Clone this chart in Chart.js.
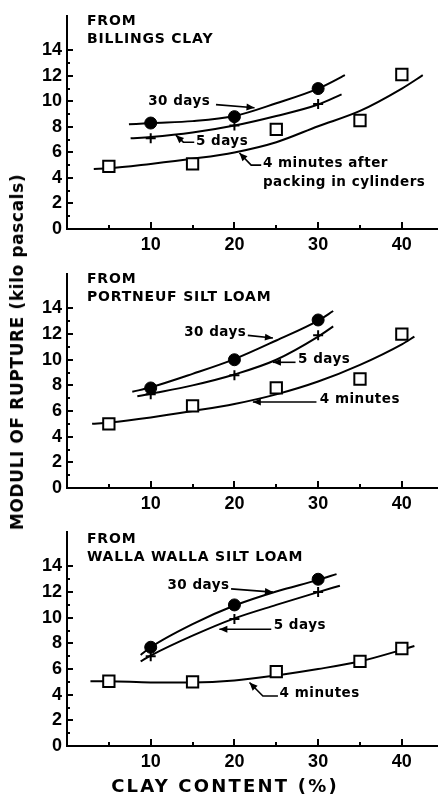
<!DOCTYPE html>
<html><head><meta charset="utf-8">
<script src="https://cdn.jsdelivr.net/npm/chart.js@4.4.0/dist/chart.umd.min.js"></script>
<style>
html,body{margin:0;padding:0;background:#fff;}
#wrap{position:relative;width:447px;height:795px;overflow:hidden;background:#fff;}
canvas{position:absolute;left:0;}
.ytitle{position:absolute;left:17px;top:352px;transform:translate(-50%,-50%) rotate(-90deg);font:bold 17px "DejaVu Sans";letter-spacing:0.6px;white-space:nowrap;color:#000;}
.xtitle{position:absolute;left:225px;top:785px;transform:translate(-50%,-50%);font:bold 18px "DejaVu Sans";letter-spacing:2.2px;white-space:nowrap;color:#000;}
</style></head><body>
<div id="wrap">
<canvas id="c1" width="447" height="258" style="top:0px"></canvas>
<canvas id="c2" width="447" height="258" style="top:258px"></canvas>
<canvas id="c3" width="447" height="279" style="top:516px"></canvas>
<div class="ytitle">MODULI OF RUPTURE (kilo pascals)</div>
<div class="xtitle">CLAY CONTENT (%)</div>
</div>
<script>
// ---- data ----
const clayDays = [10, 20, 30];            // clay % of 30-day and 5-day specimens
const clayMin = [5, 15, 25, 35, 40];      // clay % of 4-minute specimens

const billings30 = [8.3, 8.8, 11.0];
const billings5 = [7.1, 8.1, 9.8];
const billings4 = [4.9, 5.1, 7.8, 8.5, 12.1];
const portneuf30 = [7.8, 10.0, 13.1];
const portneuf5 = [7.3, 8.8, 11.9];
const portneuf4 = [5.0, 6.4, 7.8, 8.5, 12.0];
const walla30 = [7.7, 11.0, 13.0];
const walla5 = [7.0, 9.9, 12.0];
const walla4 = [5.05, 5.0, 5.8, 6.6, 7.6];

// fitted curves
const billingsFit30X = [7.4, 10, 15, 20, 25, 30, 33.2];
const billingsFit30Y = [8.2, 8.3, 8.45, 8.85, 9.85, 11.0, 12.05];
const billingsFit5X = [7.6, 10, 15, 20, 25, 30, 32.8];
const billingsFit5Y = [7.1, 7.2, 7.55, 8.1, 8.85, 9.75, 10.55];
const billingsFit4X = [3.2, 5, 10, 15, 20, 25, 30, 35, 40, 42.5];
const billingsFit4Y = [4.7, 4.75, 5.1, 5.5, 6.0, 6.8, 8.05, 9.25, 11.0, 12.05];

const portneufFit30X = [7.8, 10, 15, 20, 25, 30, 31.8];
const portneufFit30Y = [7.5, 7.85, 8.9, 10.05, 11.5, 13.05, 13.8];
const portneufFit5X = [8.4, 10, 15, 20, 25, 30, 31.8];
const portneufFit5Y = [7.15, 7.35, 8.0, 8.85, 10.0, 11.8, 12.6];
const portneufFit4X = [3, 5, 10, 15, 20, 25, 30, 35, 40, 41.5];
const portneufFit4Y = [5.0, 5.1, 5.5, 6.0, 6.55, 7.3, 8.3, 9.6, 11.2, 11.8];

const wallaFit30X = [8.8, 10, 15, 20, 25, 30, 32.2];
const wallaFit30Y = [7.1, 7.7, 9.5, 10.95, 12.05, 12.95, 13.4];
const wallaFit5X = [8.8, 10, 15, 20, 25, 30, 32.6];
const wallaFit5Y = [6.6, 7.05, 8.6, 9.95, 11.0, 12.0, 12.5];
const wallaFit4X = [2.8, 5, 10, 15, 20, 25, 30, 35, 40, 41.5];
const wallaFit4Y = [5.05, 5.05, 4.95, 4.95, 5.1, 5.5, 6.0, 6.6, 7.5, 7.8];

const yTickValues = [0,1,2,3,4,5,6,7,8,9,10,11,12,13,14];
const yTickLabels = ['0','','2','','4','','6','','8','','10','','12','','14'];
const xTickValues = [0,5,10,15,20,25,30,35,40];
const xTickLabels = ['','','10','','20','','30','','40'];

// ---- annotation placement (data units) ----
const notes1 = [
  {lines:['30 days'], at:[9.7, 9.98], arrow:[[17.8, 9.74],[22.4, 9.5]]},
  {lines:['5 days'], at:[15.4, 6.85], arrow:[[15.2, 6.8],[13.9, 6.8],[13.0, 7.35]]},
  {lines:['4 minutes after','packing in cylinders'], at:[23.4, 5.1], arrow:[[23.2, 5.0],[22.0, 5.0],[20.6, 5.95]]}
];
const notes2 = [
  {lines:['30 days'], at:[14.0, 12.1], arrow:[[21.6, 11.9],[24.6, 11.7]]},
  {lines:['5 days'], at:[27.6, 10.0], arrow:[[27.3, 9.8],[24.6, 9.8]]},
  {lines:['4 minutes'], at:[30.2, 6.9], arrow:[[29.8, 6.7],[22.2, 6.7]]}
];
const notes3 = [
  {lines:['30 days'], at:[12.0, 12.5], arrow:[[19.6, 12.25],[24.6, 12.0]]},
  {lines:['5 days'], at:[24.7, 9.4], arrow:[[24.4, 9.1],[18.2, 9.1]]},
  {lines:['4 minutes'], at:[25.4, 4.1], arrow:[[25.2, 3.9],[23.4, 3.9],[21.8, 4.95]]}
];

const pts = (xs, ys) => xs.map((x, i) => ({x: x, y: ys[i]}));

const decor = {
  id: 'decor',
  afterDraw(chart, args, opts) {
    const {ctx, chartArea} = chart;
    const x = chart.scales.x, y = chart.scales.y;
    ctx.save();
    ctx.strokeStyle = '#000'; ctx.fillStyle = '#000'; ctx.lineWidth = 2;
    yTickValues.forEach(v => {
      const py = Math.round(y.getPixelForValue(v));
      const len = v % 2 === 0 ? 6 : 3;
      ctx.beginPath(); ctx.moveTo(chartArea.left, py); ctx.lineTo(chartArea.left + len, py); ctx.stroke();
    });
    xTickValues.forEach(v => {
      if (v === 0) return;
      const px = Math.round(x.getPixelForValue(v));
      const len = v % 10 === 0 ? 7 : 4;
      ctx.beginPath(); ctx.moveTo(px, chartArea.bottom); ctx.lineTo(px, chartArea.bottom - len); ctx.stroke();
    });
    ctx.textBaseline = 'middle'; ctx.textAlign = 'left';
    ctx.font = 'bold 14px "DejaVu Sans"';
    try { ctx.letterSpacing = '0.8px'; } catch (e) {}
    ctx.fillText('FROM', chartArea.left + 20, chartArea.top + opts.titleDy);
    ctx.fillText(opts.title, chartArea.left + 20, chartArea.top + opts.titleDy + 18);
    ctx.font = 'bold 13.5px "DejaVu Sans"';
    try { ctx.letterSpacing = '0.5px'; } catch (e) {}
    opts.notes.forEach(n => {
      const tx = x.getPixelForValue(n.at[0]), ty = y.getPixelForValue(n.at[1]);
      n.lines.forEach((t, i) => ctx.fillText(t, tx, ty + i * 19));
      const p = n.arrow.map(a => [x.getPixelForValue(a[0]), y.getPixelForValue(a[1])]);
      ctx.lineWidth = 1.6;
      ctx.beginPath(); ctx.moveTo(p[0][0], p[0][1]);
      for (let i = 1; i < p.length; i++) ctx.lineTo(p[i][0], p[i][1]);
      ctx.stroke();
      const [x1, y1] = p[p.length - 2], [x2, y2] = p[p.length - 1];
      const a = Math.atan2(y2 - y1, x2 - x1);
      const L = 8, W = 3.5;
      ctx.beginPath();
      ctx.moveTo(x2, y2);
      ctx.lineTo(x2 - L * Math.cos(a) + W * Math.sin(a), y2 - L * Math.sin(a) - W * Math.cos(a));
      ctx.lineTo(x2 - L * Math.cos(a) - W * Math.sin(a), y2 - L * Math.sin(a) + W * Math.cos(a));
      ctx.closePath(); ctx.fill();
    });
    ctx.restore();
  }
};

function makeChart(id, cfg) {
  const tickFont = {family: '"Liberation Sans"', size: 18, weight: 'bold'};
  const curve = (data) => ({type: 'line', data: data, borderColor: '#000', borderWidth: 2, pointRadius: 0,
    cubicInterpolationMode: 'monotone', fill: false, order: 1});
  return new Chart(document.getElementById(id), {
    type: 'scatter',
    data: {
      datasets: [
        {data: pts(clayDays, cfg.m30), pointStyle: 'circle', pointRadius: 6, backgroundColor: '#000', borderColor: '#000', borderWidth: 1, showLine: false, order: 0},
        {data: pts(clayDays, cfg.m5), pointStyle: 'cross', pointRadius: 5, borderColor: '#000', borderWidth: 2, showLine: false, order: 0},
        {data: pts(clayMin, cfg.m4), pointStyle: 'rect', pointRadius: 8, backgroundColor: '#fff', borderColor: '#000', borderWidth: 2, showLine: false, order: 0},
        curve(cfg.f30), curve(cfg.f5), curve(cfg.f4)
      ]
    },
    options: {
      responsive: false, animation: false, devicePixelRatio: 1,
      layout: {padding: {top: cfg.top, right: 0, left: 0, bottom: 0}},
      plugins: {legend: {display: false}, tooltip: {enabled: false},
        decor: {title: cfg.title, notes: cfg.notes, titleDy: cfg.titleDy}},
      scales: {
        x: {type: 'linear', position: 'bottom', min: 0, max: 44.2,
          afterBuildTicks: s => { s.ticks = xTickValues.map(v => ({value: v})); },
          afterFit: s => { s.height = cfg.xh; },
          ticks: {autoSkip: false, maxRotation: 0, padding: 5, color: '#000', font: tickFont,
            callback: v => { const i = xTickValues.indexOf(v); return i < 0 ? '' : xTickLabels[i]; }},
          grid: {display: true, drawOnChartArea: false, drawTicks: false},
          border: {display: true, color: '#000', width: 2}},
        y: {type: 'linear', min: 0, max: 16.7,
          afterBuildTicks: s => { s.ticks = yTickValues.map(v => ({value: v})); },
          afterFit: s => { s.width = 67; },
          ticks: {autoSkip: false, padding: 5, color: '#000', font: tickFont,
            callback: v => { const i = yTickValues.indexOf(v); return i < 0 ? '' : yTickLabels[i]; }},
          grid: {display: true, drawOnChartArea: false, drawTicks: false},
          border: {display: true, color: '#000', width: 2}}
      }
    },
    plugins: [decor]
  });
}

makeChart('c1', {title: 'BILLINGS CLAY', m30: billings30, m5: billings5, m4: billings4,
  f30: pts(billingsFit30X, billingsFit30Y), f5: pts(billingsFit5X, billingsFit5Y), f4: pts(billingsFit4X, billingsFit4Y),
  notes: notes1, top: 13, xh: 29, titleDy: 6});
makeChart('c2', {title: 'PORTNEUF SILT LOAM', m30: portneuf30, m5: portneuf5, m4: portneuf4,
  f30: pts(portneufFit30X, portneufFit30Y), f5: pts(portneufFit5X, portneufFit5Y), f4: pts(portneufFit4X, portneufFit4Y),
  notes: notes2, top: 15, xh: 28, titleDy: 6});
makeChart('c3', {title: 'WALLA WALLA SILT LOAM', m30: walla30, m5: walla5, m4: walla4,
  f30: pts(wallaFit30X, wallaFit30Y), f5: pts(wallaFit5X, wallaFit5Y), f4: pts(wallaFit4X, wallaFit4Y),
  notes: notes3, top: 12, xh: 49, titleDy: 8});
</script>
</body></html>
